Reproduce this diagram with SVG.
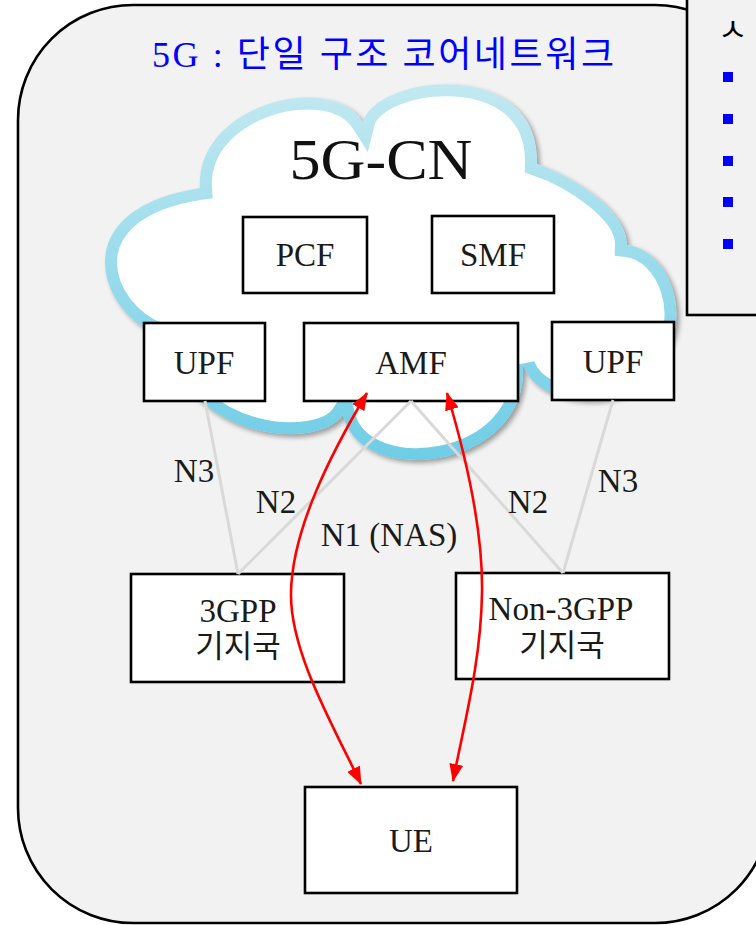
<svg xmlns="http://www.w3.org/2000/svg" width="756" height="925" viewBox="0 0 756 925">
  <style>
    .box { fill: #ffffff; stroke: #000000; stroke-width: 2.6; }
    .lbl { font-family: "Liberation Serif", "Noto Sans CJK KR", serif; font-size: 33px; fill: #1a1a1a; text-anchor: middle; }
    .kr { font-family: "Liberation Serif", "Noto Sans CJK KR", serif; font-size: 31px; fill: #1a1a1a; text-anchor: middle; }
    .iface { stroke: #d9d9d9; stroke-width: 3; fill: none; }
    .nas { stroke: #ff0000; stroke-width: 2.6; fill: none; marker-start: url(#ah); marker-end: url(#ah); }
    .bullet { fill: #0000ff; }
  </style>
  <defs>
    <marker id="ah" markerUnits="userSpaceOnUse" markerWidth="18" markerHeight="14" refX="17" refY="7" orient="auto-start-reverse">
      <path d="M0,0 L18,7 L0,14 z" fill="#ff0000"/>
    </marker>
    <linearGradient id="cloudRim" gradientUnits="userSpaceOnUse" x1="0" y1="85" x2="0" y2="460">
      <stop offset="0" stop-color="#c2e9f1"/>
      <stop offset="1" stop-color="#6fcde6"/>
    </linearGradient>
    <path id="cloudShape" d="M 200 188 C 195 105, 330 70, 363 122 C 375 75, 540 55, 537 164 C 570 175, 628 210, 627 245 C 670 250, 695 320, 660 360 C 650 410, 540 415, 523 365 C 530 470, 360 490, 343 415 C 320 450, 190 445, 160 335 C 100 315, 60 210, 200 188 Z"/>
    <clipPath id="cloudClip">
      <use href="#cloudShape"/>
    </clipPath>
    <filter id="soft" x="-10%" y="-10%" width="120%" height="120%">
      <feGaussianBlur stdDeviation="2.5"/>
    </filter>
  </defs>

  <!-- page frame -->
  <rect width="756" height="925" fill="#ffffff"/>
  <rect id="frame" x="18" y="5" width="752" height="918" rx="115" ry="115" fill="#f2f2f2" stroke="#000000" stroke-width="2.6"/>

  <!-- side panel -->
  <g id="side-panel">
    <rect x="687" y="-5" width="90" height="320" fill="#f2f2f2" stroke="#000000" stroke-width="2.6"/>
    <text x="718" y="41" font-family="'Noto Sans CJK KR', sans-serif" font-size="32" fill="#000000">ㅅ</text>
    <rect class="bullet" x="723" y="72" width="10" height="10"/>
    <rect class="bullet" x="723" y="114" width="10" height="10"/>
    <rect class="bullet" x="723" y="156" width="10" height="10"/>
    <rect class="bullet" x="723" y="197" width="10" height="10"/>
    <rect class="bullet" x="723" y="239" width="10" height="10"/>
  </g>

  <!-- heading -->
  <text id="title" x="383" y="67" font-family="'Liberation Serif', 'Noto Sans CJK KR', serif" font-size="36" fill="#0000ff" text-anchor="middle" textLength="462" lengthAdjust="spacing">5G : 단일 구조 코어네트워크</text>

  <!-- core network cloud -->
  <g id="cloud">
    <use href="#cloudShape" transform="translate(3,3)" fill="#000000" opacity="0.35" filter="url(#soft)"/>
    <g clip-path="url(#cloudClip)">
      <use href="#cloudShape" fill="#ffffff" stroke="url(#cloudRim)" stroke-width="24"/>
    </g>
    <text x="381" y="179" font-family="'Liberation Serif', serif" font-size="56" fill="#111111" text-anchor="middle" textLength="183" lengthAdjust="spacingAndGlyphs">5G-CN</text>
  </g>

  <!-- network functions -->
  <g id="pcf">
    <rect class="box" x="243" y="217" width="124" height="76"/>
    <text class="lbl" x="305" y="266">PCF</text>
  </g>
  <g id="smf">
    <rect class="box" x="432" y="216" width="122" height="77"/>
    <text class="lbl" x="493" y="266">SMF</text>
  </g>
  <g id="upf-left">
    <rect class="box" x="144" y="323" width="121" height="78"/>
    <text class="lbl" x="204" y="374">UPF</text>
  </g>
  <g id="amf">
    <rect class="box" x="304" y="323" width="214" height="78"/>
    <text class="lbl" x="411" y="374">AMF</text>
  </g>
  <g id="upf-right">
    <rect class="box" x="552" y="322" width="122" height="78"/>
    <text class="lbl" x="613" y="373">UPF</text>
  </g>

  <!-- access and terminal -->
  <g id="gnb-3gpp">
    <rect class="box" x="131" y="574" width="213" height="108"/>
    <text class="lbl" x="238" y="622">3GPP</text>
    <text class="kr" x="238" y="657">기지국</text>
  </g>
  <g id="an-non3gpp">
    <rect class="box" x="456" y="573" width="213" height="106"/>
    <text class="lbl" x="561" y="620">Non-3GPP</text>
    <text class="kr" x="562" y="656">기지국</text>
  </g>
  <g id="ue">
    <rect class="box" x="305" y="787" width="212" height="106"/>
    <text class="lbl" x="411" y="852">UE</text>
  </g>

  <!-- interfaces -->
  <g id="connectors">
    <line class="iface" x1="205" y1="401" x2="238" y2="574"/>
    <line class="iface" x1="411" y1="401" x2="238" y2="574"/>
    <line class="iface" x1="411" y1="401" x2="563" y2="573"/>
    <line class="iface" x1="613" y1="400" x2="563" y2="573"/>
    <path class="nas" d="M 367 393 C 330 455, 292 530, 291 593 C 290 650, 330 720, 361 784"/>
    <path class="nas" d="M 447 393 C 470 470, 483 540, 482 593 C 481 660, 465 720, 453 781"/>
    <text class="lbl" x="194" y="482">N3</text>
    <text class="lbl" x="276" y="513">N2</text>
    <text class="lbl" x="389" y="546">N1 (NAS)</text>
    <text class="lbl" x="528" y="513">N2</text>
    <text class="lbl" x="618" y="492">N3</text>
  </g>
</svg>
